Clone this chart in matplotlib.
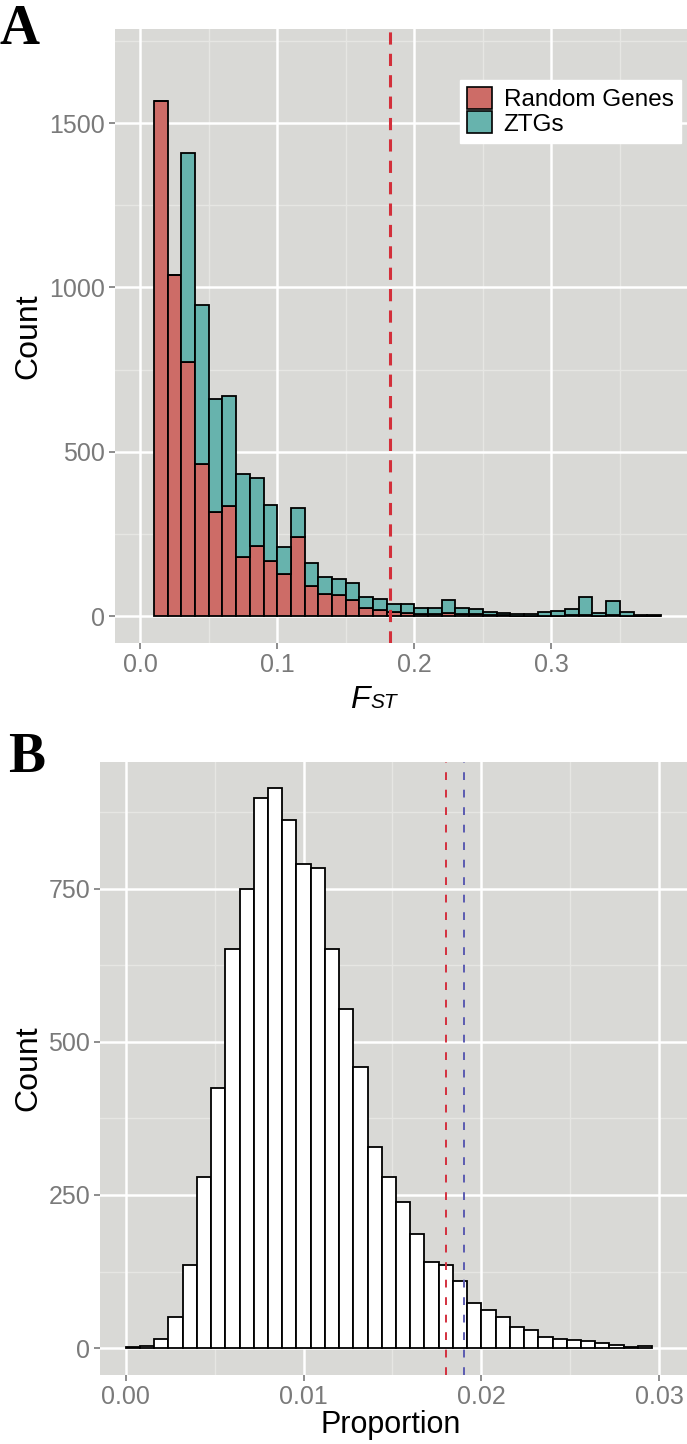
import numpy as np
import matplotlib
matplotlib.use("Agg")
import matplotlib.pyplot as plt
from matplotlib.patches import Patch

plt.rcParams['font.family'] = ['Liberation Sans', 'DejaVu Sans']

# ---------------- data: panel A (F_ST histogram, stacked) ----------------
fst_bin_start = 0.01
fst_bin_width = 0.01
random_genes = [1567, 1037, 774, 462, 318, 335, 179, 214, 168, 127, 239, 90, 68, 63, 49,
                26, 18, 12, 9, 7, 7, 8, 7, 5, 3, 2, 1, 1, 1, 1, 2, 2, 1, 2, 1, 0, 0]
ztgs = [0, 0, 634, 484, 343, 333, 253, 207, 171, 82, 89, 70, 52, 51, 51,
        32, 33, 24, 27, 19, 18, 40, 17, 15, 10, 6, 6, 4, 10, 13, 20, 55, 9, 45, 10, 4, 3]
fst_threshold = 0.1825
a_xticks = [0.0, 0.1, 0.2, 0.3]
a_xticklabels = ["0.0", "0.1", "0.2", "0.3"]
a_yticks = [0, 500, 1000, 1500]
a_yticklabels = ["0", "500", "1000", "1500"]

# ---------------- data: panel B (proportion histogram) ----------------
prop_bin_start = 0.0
prop_bin_width = 0.0008
prop_counts = [1, 3, 14, 51, 136, 280, 424, 651, 750, 898, 914, 863, 791, 784, 651, 554,
               459, 329, 279, 238, 186, 141, 136, 110, 74, 62, 50, 35, 30, 18, 15, 13, 11,
               9, 5, 2, 4]
prop_red_line = 0.018
prop_blue_line = 0.019
b_xticks = [0.00, 0.01, 0.02, 0.03]
b_xticklabels = ["0.00", "0.01", "0.02", "0.03"]
b_yticks = [0, 250, 500, 750]
b_yticklabels = ["0", "250", "500", "750"]

# ---------------- styling ----------------
W, H = 687, 1444
RED = '#CD6C67'
TEAL = '#67B3AD'
PANEL = '#D9D9D6'
MINOR = '#E6E6E3'
TICKC = '#7A7A7A'

fig = plt.figure(figsize=(W / 100, H / 100), dpi=100)


def px_axes(left, top, right, bottom):
    return fig.add_axes([left / W, 1 - bottom / H, (right - left) / W, (bottom - top) / H])


def style(ax, xmajor, xminor, ymajor, yminor):
    ax.set_facecolor(PANEL)
    for s in ax.spines.values():
        s.set_visible(False)
    for v in xminor:
        ax.axvline(v, color=MINOR, lw=1.0, zorder=0)
    for v in yminor:
        ax.axhline(v, color=MINOR, lw=1.0, zorder=0)
    for v in xmajor:
        ax.axvline(v, color='white', lw=1.8, zorder=0.5)
    for v in ymajor:
        ax.axhline(v, color='white', lw=1.8, zorder=0.5)
    ax.tick_params(axis='both', colors=TICKC, length=4, width=1.2, labelsize=18,
                   labelcolor=TICKC, pad=3)


# ---------------- panel A ----------------
axA = px_axes(115, 29, 687, 643)
nA = len(random_genes)
assert nA == len(ztgs)
leftA = fst_bin_start + fst_bin_width * np.arange(nA)
axA.bar(leftA, random_genes, width=fst_bin_width, align='edge', color=RED,
        edgecolor='black', linewidth=1.3, zorder=2)
axA.bar(leftA, ztgs, bottom=random_genes, width=fst_bin_width, align='edge', color=TEAL,
        edgecolor='black', linewidth=1.3, zorder=2)
axA.axvline(fst_threshold, color='#D32F3A', lw=2.2, dashes=(4.0, 3.0), zorder=3)
axA.set_xlim(-0.0184, 0.399)
axA.set_ylim(-82, 1786)
style(axA, a_xticks, [0.05, 0.15, 0.25, 0.35], a_yticks, [250, 750, 1250, 1750])
axA.set_xticks(a_xticks)
axA.set_xticklabels(a_xticklabels)
axA.set_yticks(a_yticks)
axA.set_yticklabels(a_yticklabels)

handles = [Patch(facecolor=RED, edgecolor='black', linewidth=1.2, label='Random Genes'),
           Patch(facecolor=TEAL, edgecolor='black', linewidth=1.2, label='ZTGs')]
leg = axA.legend(handles=handles, loc='upper left', bbox_to_anchor=(0.603, 0.917),
                 frameon=True, fancybox=False, framealpha=1, edgecolor='white',
                 fontsize=17.5, handlelength=1.0, handleheight=1.0, handletextpad=0.5,
                 labelspacing=0.0, borderpad=0.3, borderaxespad=0)
leg.get_frame().set_facecolor('white')

# axis titles panel A
fig.text(28 / W, 1 - 336 / H, 'Count', rotation=90, ha='center', va='center',
         fontsize=23, color='black')
fig.text(370 / W, 1 - 708 / H, 'F', fontstyle='italic', fontsize=23, ha='right',
         va='baseline', color='black')
fig.text(370 / W, 1 - 708 / H, 'ST', fontstyle='italic', fontsize=15, ha='left',
         va='baseline', color='black')

# ---------------- panel B ----------------
axB = px_axes(100, 762, 687, 1375)
nB = len(prop_counts)
leftB = prop_bin_start + prop_bin_width * np.arange(nB)
axB.bar(leftB, prop_counts, width=prop_bin_width, align='edge', color='white',
        edgecolor='black', linewidth=1.3, zorder=2)
axB.axvline(prop_red_line, color='#D3303E', lw=1.4, dashes=(4, 5), zorder=3)
axB.axvline(prop_blue_line, color='#5B5BB0', lw=1.4, dashes=(4, 5), zorder=3)
axB.set_xlim(-0.001445, 0.03156)
axB.set_ylim(-44, 957)
style(axB, b_xticks, [0.005, 0.015, 0.025], b_yticks, [125, 375, 625, 875])
axB.set_xticks(b_xticks)
axB.set_xticklabels(b_xticklabels)
axB.set_yticks(b_yticks)
axB.set_yticklabels(b_yticklabels)

fig.text(28 / W, 1 - 1068 / H, 'Count', rotation=90, ha='center', va='center',
         fontsize=23, color='black')
fig.text(391 / W, 1 - 1425 / H, 'Proportion', ha='center', va='center',
         fontsize=22, color='black')

# panel letters
fig.text(0 / W, 1 - 44 / H, 'A', fontsize=40, fontweight='bold',
         family=['Liberation Serif', 'DejaVu Serif'], ha='left', va='baseline')
fig.text(8 / W, 1 - 772 / H, 'B', fontsize=40, fontweight='bold',
         family=['Liberation Serif', 'DejaVu Serif'], ha='left', va='baseline')

fig.savefig('out.png', dpi=100, facecolor='white')
